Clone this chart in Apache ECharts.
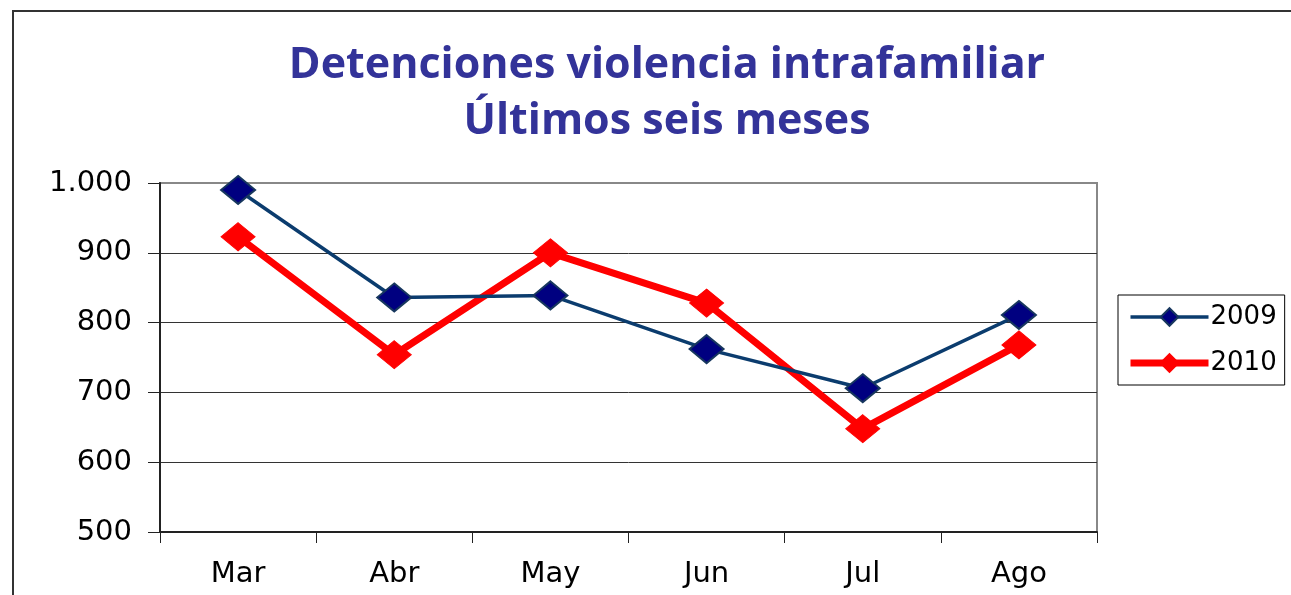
<!DOCTYPE html>
<html lang="es">
<head>
<meta charset="utf-8">
<title>Detenciones violencia intrafamiliar</title>
<script src="https://cdn.jsdelivr.net/npm/echarts@6/dist/echarts.min.js"></script>
<style>
  html, body { margin: 0; padding: 0; background: #fff; }
  #wrap { position: relative; width: 1291px; height: 595px; }
  #frame { position: absolute; left: 12px; top: 10px; right: 0; bottom: 0;
           border-top: 2px solid #333; border-left: 2px solid #333; pointer-events: none; }
  #chart { width: 1291px; height: 595px; }
</style>
</head>
<body>
<div id="wrap">
  <div id="chart"></div>
  <div id="frame"></div>
</div>
<script>
var months = ['Mar', 'Abr', 'May', 'Jun', 'Jul', 'Ago'];
var data2009 = [990, 836, 839, 762, 706, 811];
var data2010 = [923, 754, 900, 828, 648, 768];

var chart = echarts.init(document.getElementById('chart'));

var option = {
  animation: false,
  title: {
    text: 'Detenciones violencia intrafamiliar\nÚltimos seis meses',
    left: 662,
    textAlign: 'center',
    top: 33,
    textStyle: {
      fontFamily: 'Open Sans',
      fontWeight: 'bold',
      fontSize: 43,
      lineHeight: 56,
      color: '#333399'
    }
  },
  legend: {
    orient: 'vertical',
    left: 1118,
    top: 295,
    padding: [9, 8, 9, 9],
    itemWidth: 78,
    itemHeight: 22,
    itemGap: 20,
    borderColor: '#000',
    borderWidth: 1,
    textStyle: { fontFamily: 'DejaVu Sans', fontSize: 26, color: '#000', padding: [0, 0, 0, -3] },
    data: [
      { name: '2009', lineStyle: { width: 3.5, color: '#0B3C6E' } },
      { name: '2010', lineStyle: { width: 7, color: '#FF0000' } }
    ]
  },
  grid: {
    left: 160,
    top: 183,
    right: 194,
    bottom: 63,
    show: true,
    borderColor: '#888',
    borderWidth: 2
  },
  xAxis: {
    type: 'category',
    data: months,
    boundaryGap: true,
    axisLine: { lineStyle: { color: '#222', width: 2 } },
    axisTick: { show: true, length: 11, lineStyle: { color: '#222', width: 1 } },
    axisLabel: { margin: 28, fontFamily: 'DejaVu Sans', fontSize: 29, color: '#000' }
  },
  yAxis: {
    type: 'value',
    min: 500,
    max: 1000,
    interval: 100,
    axisLine: { show: true, lineStyle: { color: '#222', width: 2 } },
    axisTick: { show: true, length: 12, lineStyle: { color: '#222', width: 1 } },
    axisLabel: {
      margin: 28,
      fontFamily: 'DejaVu Sans',
      fontSize: 29,
      color: '#000',
      formatter: function (v) {
        return v >= 1000 ? Math.floor(v / 1000) + '.' + String(v % 1000).padStart(3, '0') : String(v);
      }
    },
    splitLine: {
      show: true,
      lineStyle: { color: ['#222', '#333', '#333', '#333', '#333', '#888'], width: 1 }
    }
  },
  series: [
    {
      name: '2009',
      type: 'line',
      data: data2009,
      symbol: 'diamond',
      symbolSize: [34, 28],
      z: 3,
      itemStyle: { color: '#000080', borderColor: '#17375E', borderWidth: 2 },
      lineStyle: { color: '#0B3C6E', width: 3.5 }
    },
    {
      name: '2010',
      type: 'line',
      data: data2010,
      symbol: 'diamond',
      symbolSize: [34, 28],
      z: 2,
      itemStyle: { color: '#FF0000', borderColor: '#FF0000', borderWidth: 1 },
      lineStyle: { color: '#FF0000', width: 7 }
    }
  ]
};

chart.setOption(option);
window.onresize = function () { chart.resize(); };
</script>
</body>
</html>
